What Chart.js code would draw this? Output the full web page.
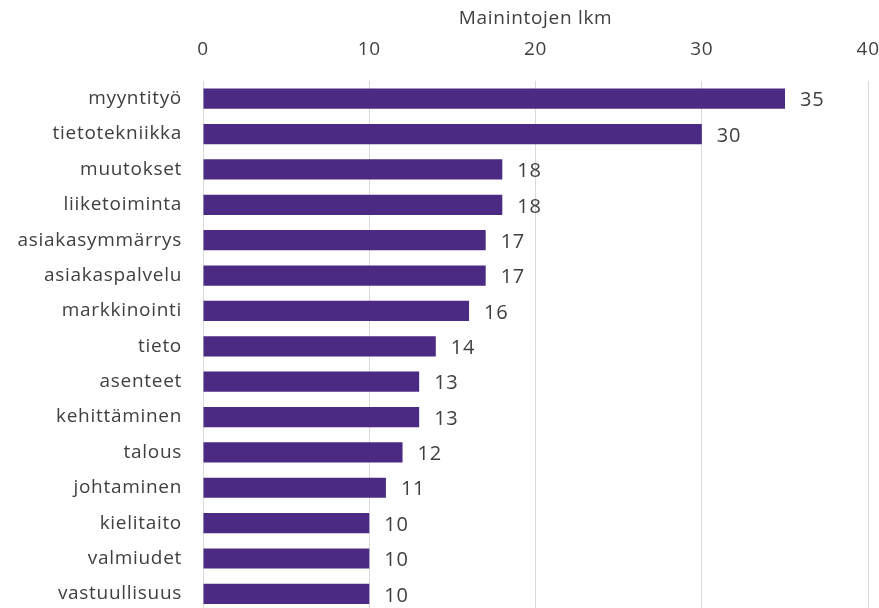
<!DOCTYPE html>
<html>
<head>
<meta charset="utf-8">
<script src="https://cdn.jsdelivr.net/npm/chart.js@4"></script>
<style>
  html, body { margin: 0; padding: 0; background: #fff; overflow: hidden; }
  canvas { display: block; }
</style>
</head>
<body>
<canvas id="chart" width="899" height="636"></canvas>
<script>
// Aineisto
const categories = ['myyntityö', 'tietotekniikka', 'muutokset', 'liiketoiminta', 'asiakasymmärrys',
    'asiakaspalvelu', 'markkinointi', 'tieto', 'asenteet', 'kehittäminen', 'talous',
    'johtaminen', 'kielitaito', 'valmiudet', 'vastuullisuus'];
const mentions = [35, 30, 18, 18, 17, 17, 16, 14, 13, 13, 12, 11, 10, 10, 10];
const xTicks = [0, 10, 20, 30, 40];
const axisTitle = 'Mainintojen lkm';

const fontFamily = '"Open Sans", Lato, sans-serif';
const textColor = '#404040';
const fontSize = 19;

// Hieman harvempi kirjainväli kuten alkuperäisessä
const looseText = {
    id: 'looseText',
    beforeDraw(chart) {
        chart.ctx.letterSpacing = '0.7px';
    }
};

// Arvot palkkien oikealle puolelle
const valueLabels = {
    id: 'valueLabels',
    afterDatasetsDraw(chart) {
        const ctx = chart.ctx;
        const meta = chart.getDatasetMeta(0);
        ctx.save();
        ctx.font = '20px ' + fontFamily;
        ctx.fillStyle = textColor;
        ctx.textAlign = 'left';
        ctx.textBaseline = 'middle';
        meta.data.forEach((bar, i) => {
            ctx.fillText(String(mentions[i]), bar.x + 15, bar.y + 2);
        });
        ctx.restore();
    }
};

const ctx = document.getElementById('chart').getContext('2d');
new Chart(ctx, {
    type: 'bar',
    data: {
        labels: categories,
        datasets: [{
            data: mentions,
            backgroundColor: '#4b2a84',
            barPercentage: 0.57,
            categoryPercentage: 1.0
        }]
    },
    options: {
        indexAxis: 'y',
        responsive: false,
        animation: false,
        layout: { padding: { left: 0, right: 2, top: 0, bottom: 0 } },
        scales: {
            x: {
                position: 'top',
                min: 0,
                max: 40,
                afterBuildTicks(scale) {
                    scale.ticks = xTicks.map(v => ({ value: v }));
                },
                afterFit(scale) { scale.height = 81; },
                grid: { color: '#d9d9d9', drawTicks: false },
                border: { display: false },
                ticks: {
                    color: textColor,
                    font: { family: fontFamily, size: fontSize },
                    padding: 20
                },
                title: {
                    display: true,
                    text: axisTitle,
                    color: textColor,
                    font: { family: fontFamily, size: fontSize },
                    padding: { top: 7, bottom: 2 }
                }
            },
            y: {
                afterFit(scale) { scale.width = 203; },
                grid: { display: false },
                border: { display: false },
                ticks: {
                    color: textColor,
                    font: { family: fontFamily, size: fontSize },
                    padding: 13
                }
            }
        },
        plugins: {
            legend: { display: false },
            tooltip: { enabled: false }
        }
    },
    plugins: [looseText, valueLabels]
});
</script>
</body>
</html>
